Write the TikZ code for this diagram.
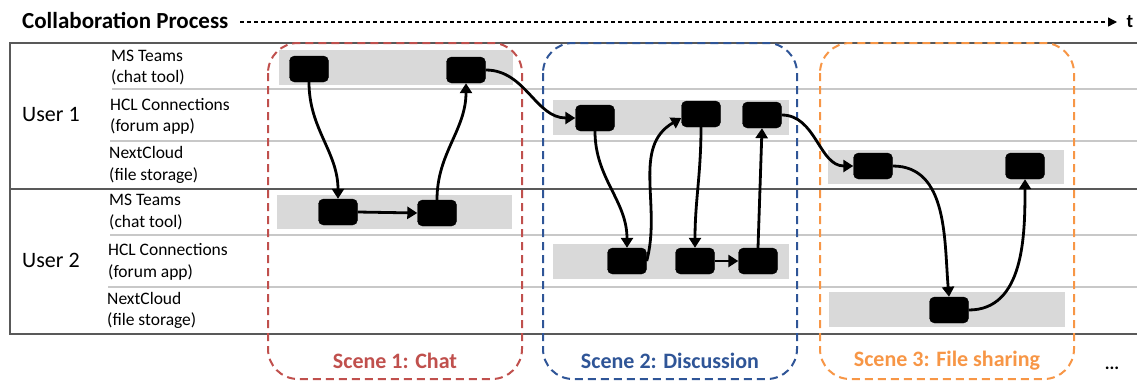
\documentclass[tikz,border=0pt]{standalone}
\usepackage{fontspec}
\setmainfont{Carlito}
\usetikzlibrary{arrows.meta}
\definecolor{scenered}{HTML}{C0504D}
\definecolor{sceneblue}{HTML}{2F5597}
\definecolor{sceneorange}{HTML}{F79646}
\definecolor{bandgray}{HTML}{D9D9D9}
\definecolor{rulegray}{HTML}{595959}
\definecolor{sepgray}{HTML}{C8C8C8}
\tikzset{
	act/.style={fill=black, draw=black, rounded corners=5pt, minimum width=39pt, minimum height=26pt, inner sep=0pt},
	flow/.style={line width=2.8pt, -{Triangle[length=10pt,width=12pt]}},
	band/.style={fill=bandgray, draw=none},
	scenebox/.style={line width=2pt, dash pattern=on 8pt off 5pt, rounded corners=30pt},
	rowlabel/.style={anchor=west, align=left, inner sep=0pt, font=\fontsize{17.5}{21.5}\selectfont},
	userlabel/.style={anchor=west, inner sep=0pt, font=\fontsize{22}{26}\selectfont},
	scenelabel/.style={inner sep=0pt, font=\bfseries\fontsize{22}{26}\selectfont}
}

\begin{document}
\begin{tikzpicture}[x=1pt,y=1pt]
			%%%%% START %%%%%
			\useasboundingbox (0,0) rectangle (1137,-381);
			
			% title and time axis
			\node[anchor=west, inner sep=0pt, font=\bfseries\fontsize{23}{26}\selectfont] (title) at (22,-20.5) {Collaboration Process};
			\coordinate (tstart) at (240,-22);
			\coordinate (tend) at (1117,-22);
			\draw[line width=1.3pt, dash pattern=on 4pt off 3pt, -{Triangle[length=9pt,width=9pt]}] (tstart) -- (tend);
			\node[inner sep=0pt, font=\bfseries\fontsize{19}{22}\selectfont] (tlabel) at (1130,-22) {t};
			
			% grey bands
			\fill[band] (279,-50) rectangle (513,-85);
			\fill[band] (277,-195) rectangle (512,-229);
			\fill[band] (553,-100) rectangle (789,-135);
			\fill[band] (553,-244) rectangle (789,-279);
			\fill[band] (828,-150) rectangle (1064,-184);
			\fill[band] (829,-292) rectangle (1065,-327);
			
			% table rules
			\draw[rulegray, line width=1.5pt] (1137,-43) -- (10,-43) -- (10,-334) -- (1137,-334);
			\draw[rulegray, line width=1.5pt] (10,-189) -- (1137,-189);
			\draw[sepgray, line width=1.5pt] (112,-89) -- (1137,-89);
			\draw[sepgray, line width=1.5pt] (110,-141) -- (1137,-141);
			\draw[sepgray, line width=1.5pt] (110,-235) -- (1137,-235);
			\draw[sepgray, line width=1.5pt] (108,-287) -- (1137,-287);
			
			% row labels
			\node[userlabel] (user1) at (22,-114.5) {User 1};
			\node[userlabel] (user2) at (22,-260) {User 2};
			\node[rowlabel] (teams1) at (111,-67.5) {MS Teams\\(chat tool)};
			\node[rowlabel] (hcl1) at (110,-116.5) {HCL Connections\\(forum app)};
			\node[rowlabel] (cloud1) at (109,-165) {NextCloud\\(file storage)};
			\node[rowlabel] (teams2) at (109,-212) {MS Teams\\(chat tool)};
			\node[rowlabel] (hcl2) at (108,-262) {HCL Connections\\(forum app)};
			\node[rowlabel] (cloud2) at (107,-310.5) {NextCloud\\(file storage)};
			
			% scenes
			\draw[scenebox, scenered] (268,-43) rectangle (522,-379);
			\draw[scenebox, sceneblue] (543,-43) rectangle (797,-379);
			\draw[scenebox, sceneorange] (820,-43) rectangle (1074,-379);
			\node[scenelabel, scenered] (chat) at (395,-361) {Scene 1: Chat};
			\node[scenelabel, sceneblue] (discussion) at (670,-361) {Scene 2: Discussion};
			\node[scenelabel, sceneorange] (sharing) at (947,-361) {Scene 3: File sharing};
			\node[inner sep=0pt, font=\bfseries\fontsize{18}{22}\selectfont] (more) at (1112,-368) {...};
			
			% actions
			\node[act] (c1) at (309,-69) {};
			\node[act] (c2) at (466,-70) {};
			\node[act] (c3) at (338,-212) {};
			\node[act] (c4) at (437,-213) {};
			
			\node[act] (d1) at (595,-118) {};
			\node[act] (d2) at (701,-114) {};
			\node[act] (d3) at (762,-115) {};
			\node[act] (d4) at (627,-261) {};
			\node[act] (d5) at (695,-261) {};
			\node[act] (d6) at (758,-261) {};
			
			\node[act] (f1) at (873,-166) {};
			\node[act] (f2) at (1025,-166) {};
			\node[act] (f3) at (949,-310) {};
			
			% flow
			\draw[flow] (c1.south) to[out=-90,in=90] (c3.north);
			\draw[flow] (c3.east) -- (c4.west);
			\draw[flow] (c4.north) to[out=90,in=-90] (c2.south);
			\draw[flow] (c2.east) to[out=0,in=180] (d1.west);
			
			\draw[flow] (d1.south) to[out=-90,in=90] (d4.north);
			\draw[flow] (d4.east) to[out=75,in=210] ([yshift=-4pt]d2.west);
			\draw[flow] (d2.south) to[out=-90,in=90] (d5.north);
			\draw[flow] (d5.east) -- (d6.west);
			\draw[flow] (d6.north) -- (d3.south);
			\draw[flow] (d3.east) to[out=0,in=180] (f1.west);
			
			\draw[flow] (f1.east) to[out=0,in=95] (f3.north);
			\draw[flow] (f3.east) to[out=0,in=-90] (f2.south);
			
			%%%%% END %%%%%
\end{tikzpicture}
\end{document}
